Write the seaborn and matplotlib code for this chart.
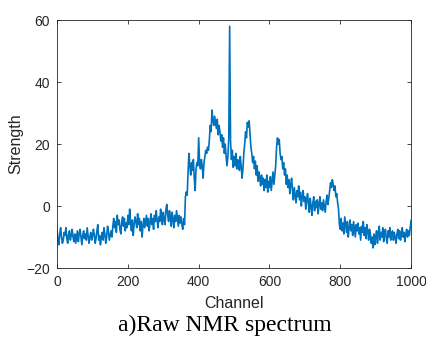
import numpy as np
import pandas as pd
import matplotlib
matplotlib.use("Agg")
import matplotlib.pyplot as plt
import seaborn as sns

# Channel axis, one reading every 2.5 channels
channels = np.arange(0, 1000.1, 2.5)

# Signal strength (each row = 50 channels)
strength = [
    -8, -11, -12.5, -9, -7, -10, -12, -11, -8.5, -9.5, -7, -10.5, -12, -9, -8, -11, -9.5, -7.5, -10, -11.5,
    -9, -12, -10, -8, -11.5, -9, -7.5, -10, -12.5, -9.5, -8, -10.5, -9, -11, -7, -9.5, -12, -10, -8.5, -11,
    -10, -7.5, -9, -12, -10.5, -8, -6, -11, -9.5, -12.5, -10, -8.5, -11, -7, -9, -12, -10, -6.5, -8, -11,
    -9.5, -8, -10, -6.5, -4, -7, -5, -8.5, -3, -6, -4.5, -7.5, -9, -5, -3.5, -6.5, -4, -8, -5.5, -7,
    -3, -6, -1, -5, -8, -4.5, -9.5, -6, -3.5, -5, -7, -2.5, -6, -4, -8, -5, -10, -6.5, -4, -7,
    -5, -3, -6.5, -4, -8, -5.5, -2.5, -6, -4, -7.5, -3, -5, -1.5, -4.5, -7, -3.5, -5, -1, -4, -6,
    -2, -4.5, -6, -1, 0.5, -3, -5, -1.5, -3.5, -6.5, -2, -4, -7, -3, -5, -1.5, -4, -6.5, -3, -5.5,
    -3.5, -6, -7.5, -4, -6, 3, 4.5, 3.5, 11, 17, 13, 10, 14, 11.5, 15, 9, 5, 12, 14, 13,
    22, 14, 12, 15, 13, 9, 14, 16, 18, 17, 19, 18, 21, 26, 24, 31, 28, 26, 29, 27,
    25, 28, 23, 26, 24, 21, 23, 19, 22, 17, 20, 16, 13, 16, 22, 58, 21, 15, 18, 12.5,
    16, 13, 17, 12, 15, 14, 11.5, 16, 13, 9, 12, 17, 20, 24, 22, 27, 25.5, 27.5, 23, 19,
    17, 14, 16, 12, 14.5, 10, 13, 8, 11, 9, 6.5, 10, 7, 9, 5, 8.5, 6, 10, 4.5, 8,
    6, 9.5, 5, 8, 11, 7, 10, 13, 19, 22, 20, 21.5, 17, 15, 16, 12, 14, 10, 12, 7,
    10, 6, 8.5, 4, 7, 9, 5, 2, 6, 3.5, 1, 5, 3, 6.5, 2, 4.5, 0, 3, 5, 1.5,
    3, -1, 2, 4, 0.5, -2, 2.5, 0, -3, 1, 3, -1.5, 1.5, -0.5, 2, -2.5, 0.5, 3, -1, 1,
    -1.5, 2, 0, -2, 1.5, 3.5, 0.5, 2.5, 5, 7.5, 6, 8.5, 7, 5, 6.5, 3, 4, 1, -1, -6,
    -7.5, -4, -8, -5.5, -9, -3.5, -6, -8.5, -5, -10, -7, -4.5, -8, -6, -9.5, -5, -7.5, -10, -6, -8,
    -5.5, -9, -7, -11, -6.5, -8.5, -5, -9.5, -7, -10.5, -6, -8, -11, -7.5, -9, -12, -10, -13.5, -9, -12.5,
    -10, -8, -12, -9, -6.5, -11, -8.5, -10, -7, -11.5, -9, -7.5, -10.5, -12, -8, -10, -7, -11, -9, -8,
    -11, -8.5, -10, -12, -9, -7.5, -10.5, -8, -11, -9.5, -7, -10, -8.5, -11.5, -9, -7.5, -10, -8, -9.5, -7,
    -4.5,
]

x_ticks = [0, 200, 400, 600, 800, 1000]
y_ticks = [-20, 0, 20, 40, 60]

df = pd.DataFrame({"Channel": channels, "Strength": strength})

sns.set_style("ticks")
plt.rcParams["font.family"] = ["Liberation Sans", "DejaVu Sans"]

fig = plt.figure(figsize=(4.26, 3.41), dpi=100)
ax = fig.add_axes([0.134, 0.214, 0.831, 0.727])

sns.lineplot(data=df, x="Channel", y="Strength", color="#0072BD", linewidth=1.2, ax=ax)

ax.set_xlim(0, 1000)
ax.set_ylim(-20, 60)
ax.set_xticks(x_ticks)
ax.set_yticks(y_ticks)
ax.tick_params(direction="in", length=3, width=0.6, top=True, right=True,
               labelsize=10, colors="#262626", pad=5)
for s in ax.spines.values():
    s.set_visible(True)
    s.set_color("#262626")
    s.set_linewidth(0.6)

ax.set_xlabel("Channel", fontsize=11.5, color="#262626", labelpad=5)
ax.set_ylabel("Strength", fontsize=11.5, color="#262626", labelpad=2)

fig.text(0.528, 0.045, "a)Raw NMR spectrum", ha="center", va="center",
         fontsize=17, family="Liberation Serif", color="black")

fig.savefig("out.png", dpi=100)
